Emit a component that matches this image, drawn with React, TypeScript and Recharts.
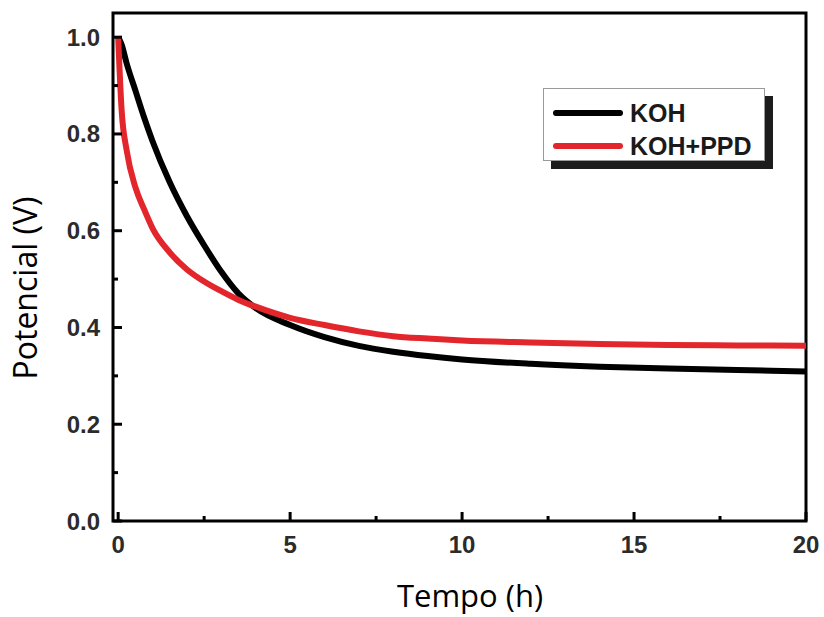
import React from 'react';
import {
  LineChart,
  Line,
  XAxis,
  YAxis,
  ReferenceArea,
  Legend,
  Label,
} from 'recharts';

// -----------------------------------------------------------------------------
// Data
// -----------------------------------------------------------------------------
const timeHours = [0, 0.1, 0.25, 0.5, 0.75, 1, 1.5, 2, 2.5, 3, 3.5, 4, 5, 6, 7, 8, 9, 10, 12, 14, 16, 18, 20];
const kohValues = [1.0, 0.985, 0.945, 0.89, 0.835, 0.785, 0.7, 0.63, 0.57, 0.515, 0.47, 0.44, 0.405, 0.38, 0.362, 0.35, 0.341, 0.334, 0.325, 0.319, 0.315, 0.312, 0.309];
const kohPpdValues = [1.0, 0.85, 0.765, 0.69, 0.645, 0.605, 0.555, 0.52, 0.495, 0.475, 0.457, 0.443, 0.42, 0.405, 0.392, 0.382, 0.377, 0.373, 0.369, 0.366, 0.364, 0.363, 0.362];

const xTicks = [0, 2.5, 5, 7.5, 10, 12.5, 15, 17.5, 20];
const yTicks = [0, 0.1, 0.2, 0.3, 0.4, 0.5, 0.6, 0.7, 0.8, 0.9, 1.0];

const seriesNames = ['KOH', 'KOH+PPD'];
const seriesColors = ['#000000', '#e3262b'];

const data = timeHours.map((t, i) => ({
  t,
  koh: kohValues[i],
  kohPpd: kohPpdValues[i],
}));

const X_DOMAIN: [number, number] = [-0.15, 20];
const Y_DOMAIN: [number, number] = [0, 1.05];

const tickFont = {
  fontFamily: '"Liberation Sans", Arial, sans-serif',
  fontWeight: 700,
  fontSize: 24,
  fill: '#2b2b2b',
};

// Inward ticks on the bottom axis; labels only on the majors
function XTick({ x, y, payload }: any) {
  const major = payload.value % 5 === 0;
  return (
    <g>
      <line x1={x} x2={x} y1={y} y2={y - (major ? 9 : 5)} stroke="#000" strokeWidth={3} />
      {major && (
        <text x={x} y={y + 32} textAnchor="middle" {...tickFont}>
          {payload.value}
        </text>
      )}
    </g>
  );
}

function YTick({ x, y, payload }: any) {
  const v = Math.round(payload.value * 10);
  const major = v % 2 === 0;
  return (
    <g>
      <line x1={x} x2={x + (major ? 9 : 5)} y1={y} y2={y} stroke="#000" strokeWidth={3} />
      {major && (
        <text x={x - 13} y={y + 8.5} textAnchor="end" {...tickFont}>
          {payload.value.toFixed(1)}
        </text>
      )}
    </g>
  );
}

function BoxLegend() {
  return (
    <div
      style={{
        width: 220,
        height: 71,
        background: '#fff',
        border: '1px solid #9a9a9a',
        boxShadow: '8px 8px 0 #1c1c1c',
        position: 'relative',
        fontFamily: '"Liberation Sans", Arial, sans-serif',
        fontWeight: 700,
        fontSize: 25,
        color: '#1a1a1a',
      }}
    >
      {seriesNames.map((name, i) => (
        <div
          key={name}
          style={{
            position: 'absolute',
            left: 9,
            top: i === 0 ? 10 : 43,
            height: 28,
            display: 'flex',
            alignItems: 'center',
          }}
        >
          <div style={{ width: 70, height: 6, borderRadius: 3, background: seriesColors[i] }} />
          <span style={{ marginLeft: 7, lineHeight: '28px' }}>{name}</span>
        </div>
      ))}
    </div>
  );
}

export default function App() {
  return (
    <div style={{ position: 'absolute', left: 0, top: 0, width: 824, height: 617, background: '#fff' }}>
      <LineChart
        width={824}
        height={617}
        data={data}
        margin={{ top: 13, right: 18, bottom: 36, left: 0 }}
      >
        <XAxis
          dataKey="t"
          type="number"
          domain={X_DOMAIN}
          ticks={xTicks}
          allowDataOverflow
          axisLine={false}
          tickLine={false}
          tickSize={0}
          tickMargin={0}
          height={60}
          tick={<XTick />}
          interval={0}
        >
          <Label
            content={() => (
              <text
                x={470}
                y={607}
                textAnchor="middle"
                fontFamily='"Open Sans", sans-serif'
                fontSize={31}
                fill="#000"
              >
                Tempo (h)
              </text>
            )}
          />
        </XAxis>
        <YAxis
          type="number"
          domain={Y_DOMAIN}
          ticks={yTicks}
          allowDataOverflow
          axisLine={false}
          tickLine={false}
          tickSize={0}
          tickMargin={0}
          width={113}
          tick={<YTick />}
          interval={0}
        >
          <Label
            content={() => (
              <text
                x={37}
                y={288}
                transform="rotate(-90, 37, 288)"
                textAnchor="middle"
                fontFamily='"Open Sans", sans-serif'
                fontSize={32}
                fill="#000"
              >
                Potencial (V)
              </text>
            )}
          />
        </YAxis>

        {/* plot frame */}
        <ReferenceArea
          x1={X_DOMAIN[0]}
          x2={X_DOMAIN[1]}
          y1={Y_DOMAIN[0]}
          y2={Y_DOMAIN[1]}
          fill="none"
          stroke="#000"
          strokeWidth={3}
          ifOverflow="visible"
        />

        <Line
          type="monotone"
          dataKey="koh"
          name={seriesNames[0]}
          stroke={seriesColors[0]}
          strokeWidth={6}
          dot={false}
          isAnimationActive={false}
        />
        <Line
          type="monotone"
          dataKey="kohPpd"
          name={seriesNames[1]}
          stroke={seriesColors[1]}
          strokeWidth={6}
          dot={false}
          isAnimationActive={false}
        />

        <Legend
          layout="horizontal"
          verticalAlign="middle"
          align="center"
          content={() => <BoxLegend />}
          wrapperStyle={{ position: 'absolute', left: 543, top: 88, width: 'auto' }}
        />
      </LineChart>
    </div>
  );
}
